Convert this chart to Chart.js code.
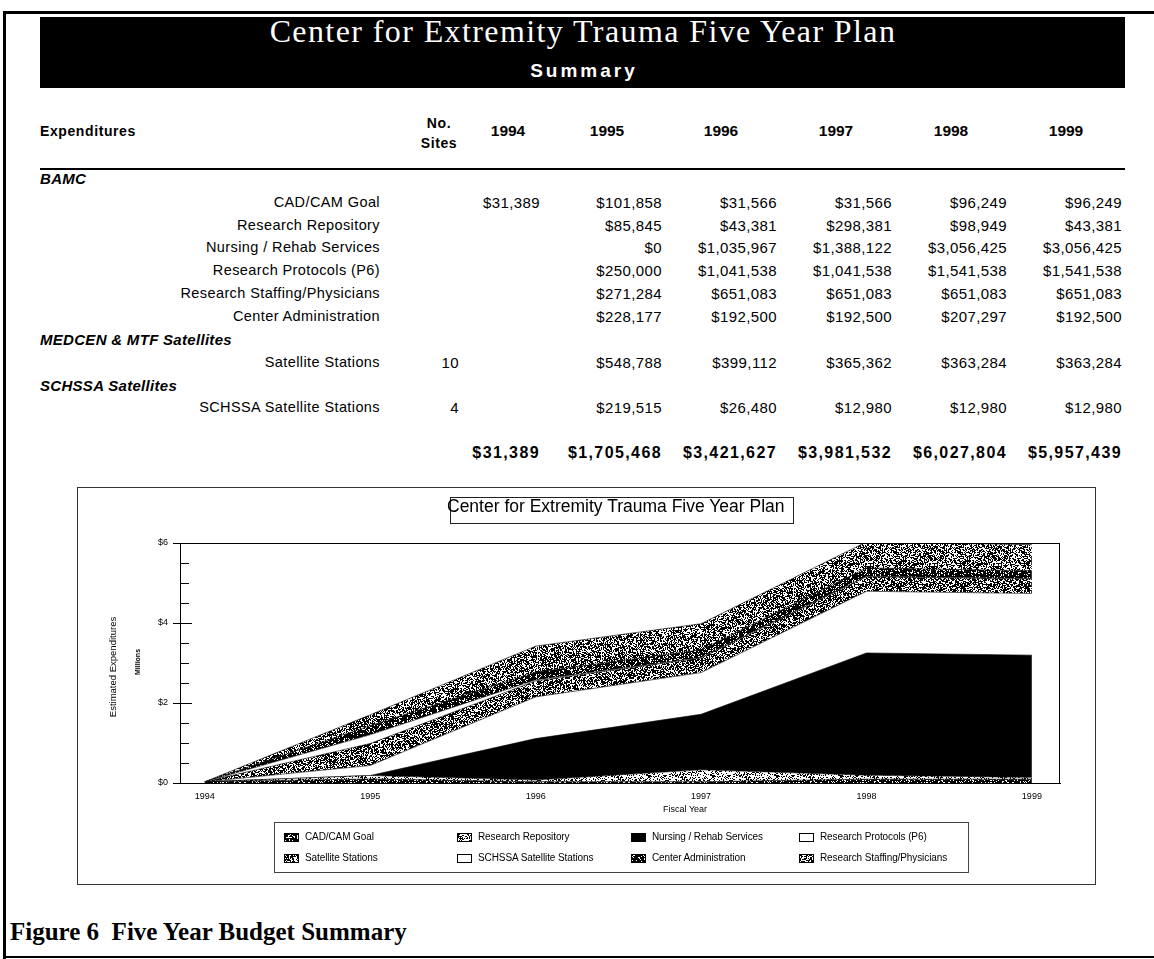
<!DOCTYPE html>
<html>
<head>
<meta charset="utf-8">
<script src="https://cdn.jsdelivr.net/npm/chart.js@4.4.1/dist/chart.umd.min.js"></script>
<style>
  body { margin: 0; width: 1154px; height: 959px; background: #fff; position: relative; overflow: hidden;
         font-family: "Liberation Sans", Arial, sans-serif; color: #000; }
  .t { position: absolute; white-space: nowrap; line-height: 1; }
  .rule { position: absolute; background: #000; }
  #banner { position: absolute; left: 40px; top: 17px; width: 1085px; height: 71px; background: #000; }
  #chart { position: absolute; left: 77px; top: 487px; width: 1019px; height: 398px; }
  #chartBox { position: absolute; left: 77px; top: 487px; width: 1019px; height: 398px; box-sizing: border-box; border: 1px solid #333; }
  #ctitle { position: absolute; left: 450px; top: 497px; width: 344px; height: 27px; box-sizing: border-box; border: 1px solid #222; }
  #ctitle span { position: absolute; left: -4px; top: -2px; font-size: 17.5px; line-height: 20px; white-space: nowrap; }
  #legend { position: absolute; left: 274px; top: 822px; width: 695px; height: 51px; box-sizing: border-box; border: 1px solid #444; }
  .sw { position: absolute; width: 15px; height: 9px; box-sizing: border-box; border: 1px solid #000; }
</style>
</head>
<body>
<div class="rule" style="left:3px;top:11px;width:1151px;height:3px"></div>
<div class="rule" style="left:3px;top:11px;width:3px;height:948px"></div>
<div class="rule" style="left:3px;top:956px;width:1151px;height:2px"></div>
<div id="banner"></div>
<div id="chartBox"></div>
<canvas id="chart" width="1019" height="398"></canvas>
<div id="ctitle"><span>Center for Extremity Trauma Five Year Plan</span></div>
<div id="legend"></div>

<script>
// fiscal years and expenditures (dollars); null = blank cell in the table
const years = [1994, 1995, 1996, 1997, 1998, 1999];
const cadCam = [31389, 101858, 31566, 31566, 96249, 96249];
const researchRepository = [null, 85845, 43381, 298381, 98949, 43381];
const nursingRehab = [null, 0, 1035967, 1388122, 3056425, 3056425];
const researchProtocols = [null, 250000, 1041538, 1041538, 1541538, 1541538];
const researchStaffing = [null, 271284, 651083, 651083, 651083, 651083];
const centerAdmin = [null, 228177, 192500, 192500, 207297, 192500];
const satelliteStations = [null, 548788, 399112, 365362, 363284, 363284];
const schssaStations = [null, 219515, 26480, 12980, 12980, 12980];
const totals = [31389, 1705468, 3421627, 3981532, 6027804, 5957439];
const yTickLabels = ['$0', '$2', '$4', '$6'];

// table rows (group headings have no data)
const tableRows = [
  { group: 'BAMC' },
  { label: 'CAD/CAM Goal', data: cadCam },
  { label: 'Research Repository', data: researchRepository },
  { label: 'Nursing / Rehab Services', data: nursingRehab },
  { label: 'Research Protocols (P6)', data: researchProtocols },
  { label: 'Research Staffing/Physicians', data: researchStaffing },
  { label: 'Center Administration', data: centerAdmin },
  { group: 'MEDCEN & MTF Satellites' },
  { label: 'Satellite Stations', data: satelliteStations, sites: 10 },
  { group: 'SCHSSA Satellites' },
  { label: 'SCHSSA Satellite Stations', data: schssaStations, sites: 4 }
];

// chart stack order, bottom to top
const chartSeries = [
  { label: 'CAD/CAM Goal', data: cadCam },
  { label: 'Research Repository', data: researchRepository },
  { label: 'Nursing / Rehab Services', data: nursingRehab },
  { label: 'Research Protocols (P6)', data: researchProtocols },
  { label: 'Satellite Stations', data: satelliteStations },
  { label: 'SCHSSA Satellite Stations', data: schssaStations },
  { label: 'Center Administration', data: centerAdmin },
  { label: 'Research Staffing/Physicians', data: researchStaffing }
];
const shade = [0.8, 0.3, 1, 0, 0.6, 0, 0.8, 0.55];  // share of black dots

// layout (page pixels)
const rowY = [178, 202, 225, 247, 270, 293, 316, 339, 362, 385, 407];
const colRight = [540, 662, 777, 892, 1007, 1122];
const colHead = [508, 607, 721, 836, 951, 1066];

function put(txt, x, y, align, style) {
  const d = document.createElement('div');
  d.className = 't';
  d.textContent = txt;
  d.style.left = x + 'px';
  d.style.top = y + 'px';
  const tx = align === 'right' ? '-100%' : align === 'center' ? '-50%' : '0';
  d.style.transform = 'translate(' + tx + ', -50%)';
  Object.assign(d.style, style || {});
  document.body.appendChild(d);
  return d;
}
const money = v => '$' + v.toLocaleString('en-US');

// banner
put('Center for Extremity Trauma Five Year Plan', 583, 31, 'center',
  { color: '#fff', fontFamily: '"Liberation Serif", "Times New Roman", serif', fontSize: '32px', letterSpacing: '1.4px' });
put('Summary', 584, 70, 'center', { color: '#fff', fontWeight: 'bold', fontSize: '19px', letterSpacing: '3px' });

// table header
const hdr = { fontWeight: 'bold', fontSize: '14px', letterSpacing: '0.6px' };
put('Expenditures', 40, 131, 'left', hdr);
put('No.', 439, 123, 'center', hdr);
put('Sites', 439, 143, 'center', hdr);
years.forEach((yr, i) => put(String(yr), colHead[i], 131, 'center', { fontWeight: 'bold', fontSize: '15.5px' }));
const line = document.createElement('div');
line.className = 'rule';
Object.assign(line.style, { left: '40px', top: '168px', width: '1085px', height: '2px' });
document.body.appendChild(line);

// table body
const cell = { fontSize: '15px', letterSpacing: '0.4px' };
tableRows.forEach((r, k) => {
  const y = rowY[k];
  if (r.group) {
    put(r.group, 40, y, 'left', { fontWeight: 'bold', fontStyle: 'italic', fontSize: '15px', letterSpacing: '0.3px' });
    return;
  }
  put(r.label, 380, y, 'right', { fontSize: '14.5px', letterSpacing: '0.4px' });
  if (r.sites) put(String(r.sites), 459, y, 'right', cell);
  r.data.forEach((v, i) => { if (v !== null) put(money(v), colRight[i], y, 'right', cell); });
});
totals.forEach((v, i) => put(money(v), colRight[i], 453, 'right', { fontWeight: 'bold', fontSize: '16px', letterSpacing: '1.4px' }));

// caption
put('Figure 6\u00a0 Five Year Budget Summary', 10, 931, 'left',
  { fontFamily: '"Liberation Serif", "Times New Roman", serif', fontWeight: 'bold', fontSize: '25px' });

// stipple fills (fixed hash, looks like scanned halftone)
function hash(x, y) {
  let h = (Math.imul(x, 374761393) + Math.imul(y, 668265263)) | 0;
  h = Math.imul(h ^ (h >>> 13), 1274126177);
  h ^= h >>> 16;
  return (h >>> 0) / 4294967296;
}
function stippleTile(level, seed) {
  const n = 64;
  const c = document.createElement('canvas');
  c.width = c.height = n;
  const g = c.getContext('2d');
  g.fillStyle = '#fff';
  g.fillRect(0, 0, n, n);
  g.fillStyle = '#000';
  for (let y = 0; y < n; y++) {
    for (let x = 0; x < n; x++) {
      if (hash(x + seed * 131, y + seed * 71) < level) g.fillRect(x, y, 1, 1);
    }
  }
  return c;
}
const canvas = document.getElementById('chart');
const ctx = canvas.getContext('2d');
const tiles = shade.map((s, i) => stippleTile(s, i + 1));
const fills = shade.map((s, i) => s >= 1 ? '#000' : s <= 0 ? '#fff' : ctx.createPattern(tiles[i], 'repeat'));

// legend (4 columns x 2 rows)
const legend = document.getElementById('legend');
const legX = [284, 457, 631, 799];
const legY = [837, 858];
chartSeries.forEach((s, i) => {
  const col = i % 4, row = Math.floor(i / 4);
  const sw = document.createElement('div');
  sw.className = 'sw';
  sw.style.left = (legX[col] - 274 - 1) + 'px';
  sw.style.top = (legY[row] - 822 - 1 - 4) + 'px';
  sw.style.background = shade[i] >= 1 ? '#000' : shade[i] <= 0 ? '#fff' : 'url(' + tiles[i].toDataURL() + ')';
  legend.appendChild(sw);
  put(s.label, legX[col] + 21, legY[row], 'left', { fontSize: '10px', letterSpacing: '-0.1px' });
});

// frame, inner tick marks and axis titles
const plotDecor = {
  id: 'plotDecor',
  afterDatasetsDraw(chart) {
    const { ctx, chartArea: a, scales: { y } } = chart;
    ctx.save();
    ctx.strokeStyle = '#000';
    ctx.lineWidth = 1;
    ctx.strokeRect(a.left + 0.5, a.top + 0.5, a.right - a.left - 1, a.bottom - a.top);
    y.ticks.forEach(t => {
      const py = Math.round(y.getPixelForValue(t.value)) + 0.5;
      ctx.beginPath();
      ctx.moveTo(a.left, py);
      ctx.lineTo(a.left + (t.value % 2 === 0 ? 12 : 9), py);
      ctx.stroke();
    });
    ctx.fillStyle = '#000';
    ctx.textAlign = 'center';
    ctx.textBaseline = 'middle';
    ctx.font = '9px "Liberation Sans", Arial, sans-serif';
    ctx.fillText('Fiscal Year', a.left + 505, a.bottom + 27);
    const cy = (a.top + a.bottom) / 2;
    ctx.translate(a.left - 67, cy + 4);
    ctx.rotate(-Math.PI / 2);
    ctx.font = '9.5px "Liberation Sans", Arial, sans-serif';
    ctx.fillText('Estimated Expenditures', 0, 0);
    ctx.font = 'bold 7px "Liberation Sans", Arial, sans-serif';
    ctx.fillText('Millions', 5, 25);
    ctx.restore();
  }
};

new Chart(canvas, {
  type: 'line',
  data: {
    datasets: chartSeries.map((s, i) => ({
      label: s.label,
      data: years.map((yr, j) => ({ x: yr, y: (s.data[j] || 0) / 1e6 })),
      backgroundColor: fills[i],
      borderColor: '#000',
      borderWidth: 0.6,
      pointRadius: 0,
      tension: 0,
      fill: i === 0 ? 'origin' : '-1'
    }))
  },
  options: {
    responsive: false,
    animation: false,
    layout: { padding: { left: 0, right: 36, top: 56, bottom: 72 } },
    plugins: { legend: { display: false }, title: { display: false }, tooltip: { enabled: false } },
    scales: {
      x: {
        type: 'linear',
        min: 1993.85,
        max: 1999.17,
        grid: { display: false, drawTicks: false },
        border: { display: true, color: '#000', width: 1 },
        ticks: {
          stepSize: 1,
          includeBounds: false,
          padding: 8,
          color: '#000',
          font: { size: 9, family: '"Liberation Sans", Arial, sans-serif' },
          callback: v => Number.isInteger(v) ? String(v) : ''
        },
        afterFit: s => { s.height = 30; }
      },
      y: {
        stacked: true,
        min: 0,
        max: 6,
        grid: {
          drawOnChartArea: false,
          tickLength: 7,
          color: c => (c.tick && c.tick.value % 2 === 0) ? '#000' : 'rgba(0,0,0,0)'
        },
        border: { display: true, color: '#000', width: 1 },
        ticks: {
          stepSize: 0.5,
          maxTicksLimit: 20,
          autoSkip: false,
          padding: 5,
          color: '#000',
          font: { size: 9, family: '"Liberation Sans", Arial, sans-serif' },
          callback: v => v % 2 === 0 ? yTickLabels[v / 2] : ''
        },
        afterFit: s => { s.width = 103; }
      }
    }
  },
  plugins: [plotDecor]
});
</script>
</body>
</html>
